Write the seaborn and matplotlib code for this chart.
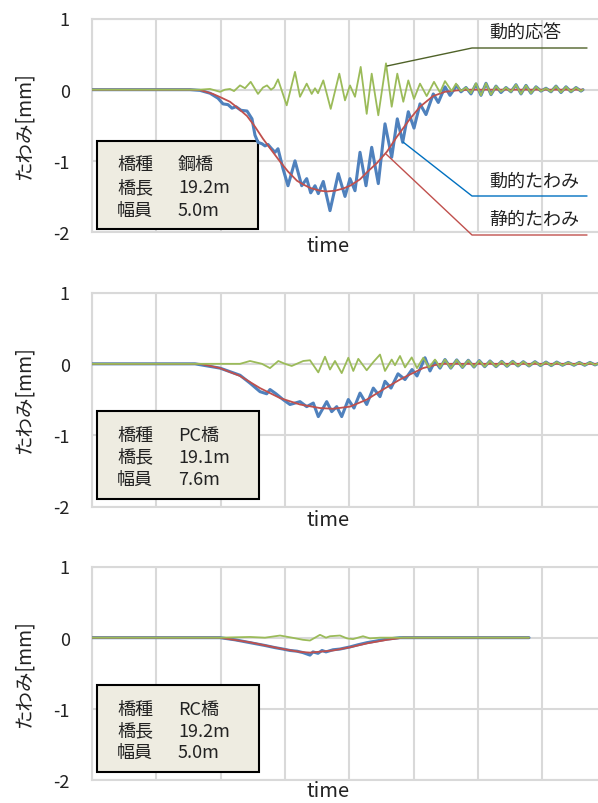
import numpy as np
import pandas as pd
import matplotlib
matplotlib.use("Agg")
import matplotlib.pyplot as plt
import seaborn as sns
from matplotlib.patches import Rectangle
from matplotlib.lines import Line2D

sns.set_theme(style="white")
plt.rcParams['font.family'] = ['Noto Sans CJK JP', 'DejaVu Sans']

# ---------------- data ----------------
SERIES_NAMES = ['動的たわみ', '静的たわみ', '動的応答']
Y_TICKS = [-2, -1, 0, 1]
Y_TICK_LABELS = ['-2', '-1', '0', '1']
X_LABEL = 'time'
Y_LABEL = 'たわみ[mm]'

# Panel 1: steel bridge
STEEL_INFO = [('橋種', '鋼橋'), ('橋長', '19.2m'), ('幅員', '5.0m')]
STEEL_STATIC_T = [0, 88, 98, 108, 121, 129, 138, 146, 155, 163, 171, 180, 188, 196, 205, 211, 218, 228, 235,
                  243, 251, 258, 268, 275, 285, 295, 305, 318, 328, 341, 353, 365, 378, 491]
STEEL_STATIC = [0, 0, 0, -0.005, -0.06, -0.11, -0.17, -0.26, -0.37, -0.52, -0.69, -0.86, -1.01, -1.15, -1.28,
                -1.33, -1.38, -1.42, -1.43, -1.42, -1.39, -1.35, -1.26, -1.16, -1.03, -0.87, -0.66, -0.41,
                -0.24, -0.09, -0.03, -0.01, 0, 0]
STEEL_DYN_T = [0, 58, 98, 108, 118, 126, 131, 136, 140, 144, 149, 155, 160, 163, 166, 170, 173, 176, 179, 183,
               186, 191, 196, 203, 209.7, 214.7, 218.7, 223, 226.3, 231.3, 238, 246.3, 253, 258, 263, 268, 274,
               279.7, 286.3, 293, 299.7, 305.3, 310.7, 316.3, 322, 328, 334, 341.3, 346.3, 353, 358, 364.7,
               369, 374, 379, 384, 389, 394, 399, 404, 409, 414, 419, 424, 429, 434, 439, 444, 449, 454, 459,
               464, 469, 474, 479, 484, 489, 491]
STEEL_DYN = [0, 0, 0, -0.01, -0.05, -0.12, -0.2, -0.21, -0.26, -0.24, -0.29, -0.3, -0.41, -0.64, -0.74, -0.76,
             -0.79, -0.77, -0.82, -0.88, -0.83, -1.11, -1.35, -1.0, -1.35, -1.25, -1.45, -1.35, -1.46, -1.29,
             -1.70, -1.18, -1.5, -1.25, -1.42, -0.88, -1.35, -0.81, -1.32, -0.48, -0.95, -0.41, -0.74, -0.31,
             -0.54, -0.2, -0.35, -0.06, -0.18, 0.04, -0.08, 0.06,
             -0.03, 0.03, -0.06, 0.08, -0.08, 0.09, -0.07, 0.05, -0.04, 0.03, -0.03, 0.07, -0.06, 0.06, -0.05,
             0.04, -0.02, 0.02, -0.03, 0.05, -0.04, 0.04, -0.03, 0.03, -0.02, 0]
STEEL_RESP_T = [0, 108, 118, 123, 128, 133, 138, 142, 148, 153, 158.7, 166, 171, 175, 179, 182, 186, 194.7,
                203, 208, 214.7, 219.7, 223, 226, 231.3, 238.7, 247.3, 253, 258, 263, 268.7, 274.7, 279.7,
                286.3, 294, 299.7, 305.3, 311.3, 316.3, 322, 328, 334.7, 342, 348, 353, 359.7, 364,
                369, 374, 379, 384, 389, 394, 399, 404, 409, 414, 419, 424, 429, 434, 439, 444, 449, 454, 459,
                464, 469, 474, 479, 484, 489, 491]
STEEL_RESP = [0, 0, 0.01, -0.01, -0.03, 0.0, 0.01, -0.02, 0.06, 0.02, 0.11, -0.06, 0.03, 0.06, 0.0, 0.03,
              0.145, -0.22, 0.25, -0.10, 0.085, -0.06, 0.02, -0.05, 0.13, -0.27, 0.225, -0.15, 0.06, -0.10,
              0.32, -0.34, 0.225, -0.36, 0.37, -0.24, 0.225, -0.17, 0.13, -0.13, 0.085, -0.09, 0.11, -0.04,
              0.12, -0.02, 0.085,
              -0.02, 0.03, -0.05, 0.09, -0.08, 0.09, -0.07, 0.05, -0.03, 0.03, -0.03, 0.07, -0.06, 0.06,
              -0.05, 0.04, -0.02, 0.02, -0.03, 0.05, -0.04, 0.04, -0.03, 0.03, -0.02, 0]

# Panel 2: PC bridge
PC_INFO = [('橋種', 'PC橋'), ('橋長', '19.1m'), ('幅員', '7.6m')]
PC_STATIC_T = [0, 108, 128, 148, 168, 188, 208, 228, 241, 258, 275, 291, 308, 315, 331, 348, 508]
PC_STATIC = [0, 0, -0.06, -0.17, -0.34, -0.48, -0.57, -0.62, -0.63, -0.60, -0.50, -0.36, -0.22, -0.17,
             -0.06, 0, 0]
PC_TAIL_T = [353, 358.8, 364.7, 370.5, 376.3, 382, 387.3, 392.7, 398, 404, 409.7, 415, 420.7, 426, 431.3, 437,
             443, 448.5, 454, 459.3, 464.7, 470.5, 476.3, 482, 487.3, 492.7, 498, 503, 508]
PC_DYN_T = [0, 103, 128, 148, 158, 168, 174.7, 178, 184, 191, 198, 208, 214.7, 221.3, 226.3, 234.7, 239.7,
            244.7, 249.7, 256.3, 262, 268, 274.7, 281.3, 288, 293, 299, 306, 313, 320, 325, 333, 338, 343,
            348] + PC_TAIL_T
PC_DYN = [0, 0, -0.06, -0.16, -0.27, -0.39, -0.42, -0.36, -0.42, -0.5, -0.57, -0.53, -0.60, -0.55, -0.74,
          -0.53, -0.67, -0.60, -0.74, -0.50, -0.62, -0.41, -0.57, -0.34, -0.46, -0.245, -0.34, -0.14, -0.22,
          -0.08, -0.17, 0.085, -0.1, 0.04, -0.06,
          0.06, -0.06, 0.055, -0.05, 0.05, -0.045, 0.045, -0.04, 0.04, -0.04, 0.035, -0.035, 0.035, -0.03,
          0.03, -0.03, 0.03, -0.025, 0.025, -0.025, 0.025, -0.02, 0.02, -0.02, 0.02, -0.02, 0.02, -0.015, 0.015]
PC_RESP_T = [0, 148, 158, 170, 178, 186.3, 193, 199.7, 211.3, 218, 226.3, 233, 238, 243, 249.7, 256.3, 261.3,
             266.3, 274.7, 281, 288, 293, 299.7, 303, 308, 313, 319.7, 325, 331.3, 337, 343, 348] + PC_TAIL_T
PC_RESP = [0, 0, 0.04, 0.0, -0.06, 0.04, 0.0, -0.03, 0.04, 0.05, -0.12, 0.1, -0.08, 0.04, -0.13, 0.085,
           -0.10, 0.07, -0.09, 0.02, 0.13, -0.10, 0.06, -0.02, 0.11, -0.05, 0.09, -0.06, 0.085, -0.05, 0.06,
           -0.05,
           0.06, -0.06, 0.055, -0.05, 0.05, -0.045, 0.045, -0.04, 0.04, -0.04, 0.035, -0.035, 0.035, -0.03,
           0.03, -0.03, 0.03, -0.025, 0.025, -0.025, 0.025, -0.02, 0.02, -0.02, 0.02, -0.02, 0.02, -0.015, 0.015]

# Panel 3: RC bridge
RC_INFO = [('橋種', 'RC橋'), ('橋長', '19.2m'), ('幅員', '5.0m')]
RC_STATIC_T = [0, 128, 158, 191, 208, 218, 241, 258, 275, 295, 311, 437]
RC_STATIC = [0, 0, -0.065, -0.16, -0.2, -0.21, -0.18, -0.135, -0.08, -0.03, 0, 0]
RC_DYN_T = [0, 128, 143, 158, 173, 183, 191, 198, 205, 211, 215, 218, 221, 226, 230, 234, 241, 248, 258, 266,
            275, 283, 295, 308, 437]
RC_DYN = [0, 0, -0.03, -0.07, -0.11, -0.14, -0.16, -0.18, -0.19, -0.21, -0.23, -0.245, -0.2, -0.22, -0.18,
          -0.2, -0.17, -0.16, -0.13, -0.1, -0.07, -0.05, -0.02, 0, 0]
RC_RESP_T = [0, 128, 158, 173, 188, 200, 211, 218, 223, 228, 234, 238, 248, 255, 261, 271, 278, 288, 437]
RC_RESP = [0, 0, 0.01, 0.0, 0.03, 0.0, -0.03, -0.04, 0.0, 0.04, 0.0, 0.02, 0.03, -0.01, -0.02, 0.02,
           -0.01, 0.0, 0]

# ---------------- style / layout ----------------
W, H = 598, 804
COLORS = {'動的たわみ': '#4F81BD', '静的たわみ': '#C0504D', '動的応答': '#9BBB59'}
LWS = {'動的たわみ': 2.2, '静的たわみ': 1.3, '動的応答': 1.3}
GRID_COLOR = '#D9D9D9'
GRID_STEP = 64.3
XMAX = 514.4
AX_LEFT = 92

panels = [
    dict(info=STEEL_INFO, top=19.5, bottom=233, xlab_dy=14,
         series=[(STEEL_DYN_T, STEEL_DYN), (STEEL_STATIC_T, STEEL_STATIC), (STEEL_RESP_T, STEEL_RESP)],
         box=(97, 142, 258, 230), rows=(165, 188, 211)),
    dict(info=PC_INFO, top=293.5, bottom=507.5, xlab_dy=13,
         series=[(PC_DYN_T, PC_DYN), (PC_STATIC_T, PC_STATIC), (PC_RESP_T, PC_RESP)],
         box=(97, 411.7, 258.6, 500), rows=(435.7, 457.7, 480)),
    dict(info=RC_INFO, top=567.5, bottom=781, xlab_dy=11,
         series=[(RC_DYN_T, RC_DYN), (RC_STATIC_T, RC_STATIC), (RC_RESP_T, RC_RESP)],
         box=(97, 685.7, 258.6, 773.3), rows=(710, 731.7, 753.3)),
]

fig = plt.figure(figsize=(W / 100, H / 100), dpi=100)


def fx(px):
    return px / W


def fy(py):
    return 1 - py / H


for p in panels:
    ax = fig.add_axes([fx(AX_LEFT), fy(p['bottom']), XMAX / W, (p['bottom'] - p['top']) / H])
    ax.set_facecolor('white')
    for name, (t, v) in zip(SERIES_NAMES, p['series']):
        df = pd.DataFrame({'time': t, 'value': v})
        sns.lineplot(data=df, x='time', y='value', ax=ax, color=COLORS[name], linewidth=LWS[name],
                     estimator=None, sort=False, legend=False, zorder=3,
                     solid_joinstyle='round', solid_capstyle='round')
    ax.set_xlim(0, XMAX)
    ax.set_ylim(-2, 1)
    ax.set_xticks(np.arange(0, XMAX + 1, GRID_STEP))
    ax.set_xticklabels([])
    ax.set_yticks(Y_TICKS)
    ax.set_yticklabels(Y_TICK_LABELS, fontsize=13, color='#222222')
    ax.tick_params(axis='both', length=0)
    ax.tick_params(axis='y', pad=16)
    ax.grid(True, color=GRID_COLOR, linewidth=1.5)
    ax.set_axisbelow(True)
    for s in ['top', 'bottom', 'left']:
        ax.spines[s].set_color(GRID_COLOR)
        ax.spines[s].set_linewidth(1.5)
    ax.spines['right'].set_visible(False)
    ax.set_xlabel('')
    ax.set_ylabel('')

    # info box
    x0, y0, x1, y1 = p['box']
    rect = Rectangle((fx(x0), fy(y1)), (x1 - x0) / W, (y1 - y0) / H, transform=fig.transFigure,
                     facecolor='#EEECE1', edgecolor='black', linewidth=1.5, zorder=2, clip_on=False)
    ax.add_artist(rect)
    for (lab, val), ry in zip(p['info'], p['rows']):
        ax.text(fx(117), fy(ry), lab, transform=fig.transFigure, fontsize=13, ha='left', va='center',
                color='#222222', zorder=5, clip_on=False)
        ax.text(fx(178), fy(ry), val, transform=fig.transFigure, fontsize=13, ha='left', va='center',
                color='#222222', zorder=5, clip_on=False)

    fig.text(fx(24), fy((p['top'] + p['bottom']) / 2), Y_LABEL, rotation=90, ha='center', va='center',
             fontsize=14, color='#222222')
    fig.text(fx(328), fy(p['bottom'] + p['xlab_dy']), X_LABEL, ha='center', va='center', fontsize=14.5,
             color='#222222')

# leader annotations (panel 1)
leaders = [
    ('動的応答', '#4F6228', [(387, 67), (472, 49), (587, 49)], 34),
    ('動的たわみ', '#0070C0', [(403, 143), (472, 197), (587, 197)], 182),
    ('静的たわみ', '#C0504D', [(386, 155), (472, 236), (587, 236)], 220),
]
for label, col, pts, ty in leaders:
    fig.add_artist(Line2D([fx(a) for a, b in pts], [fy(b) for a, b in pts], transform=fig.transFigure,
                          color=col, linewidth=1.0, zorder=6))
    fig.text(fx(489), fy(ty), label, ha='left', va='center', fontsize=13, color='#222222')

fig.savefig('out.png', dpi=100)
